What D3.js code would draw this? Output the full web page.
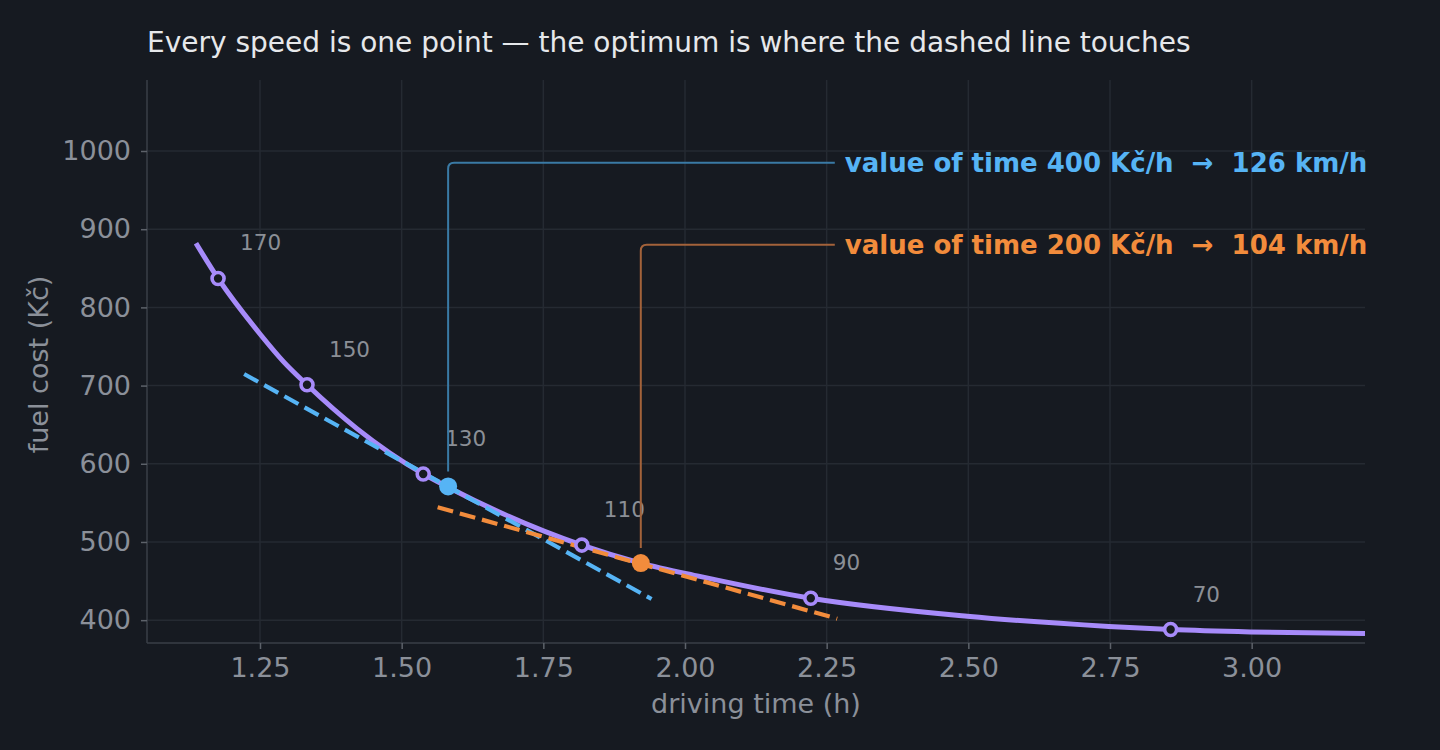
<!DOCTYPE html>
<html>
<head>
<meta charset="utf-8">
<script src="https://cdn.jsdelivr.net/npm/d3@7"></script>
<style>
  html, body { margin: 0; padding: 0; background: #161a21; }
  svg { display: block; font-family: "DejaVu Sans", sans-serif; }
</style>
</head>
<body>
<svg id="chart" width="1440" height="750"></svg>
<script>
// curve: driving time (h) vs fuel cost (Kč)
var curveTime = [1.137, 1.176, 1.25, 1.291, 1.333, 1.421, 1.538, 1.582, 1.818, 1.922, 2.026, 2.222, 2.498, 2.748, 2.857, 2.998, 3.20];
var curveCost = [882, 837, 766, 731, 701, 645, 587, 570, 496, 473, 456, 428, 405, 392, 388, 385, 383];

// speeds marked on the curve
var speeds = [170, 150, 130, 110, 90, 70];
var speedTime = [1.176, 1.333, 1.538, 1.818, 2.222, 2.857];
var speedCost = [837, 701, 587, 496, 428, 388];

// optima for two values of time
var valueOfTime = [400, 200];
var optSpeed = [126, 104];
var optTime = [1.582, 1.922];
var optCost = [571, 473];
var tangentTime = [[1.222, 1.941], [1.5635, 2.2686]];
var tangentCost = [[714.8, 427.1], [544.4, 401.9]];
var labelCost = [985, 880];
var labelTime = 2.282;
var colours = ["#56b4f5", "#f28c3c"];
var connColours = ["#3a7aa5", "#a3623a"];

var xTicks = [1.25, 1.50, 1.75, 2.00, 2.25, 2.50, 2.75, 3.00];
var yTicks = [400, 500, 600, 700, 800, 900, 1000];

var svg = d3.select("#chart"),
    margin = {top: 80, right: 75, bottom: 107, left: 147},
    width = svg.attr("width") - margin.left - margin.right,
    height = svg.attr("height") - margin.top - margin.bottom;

svg.append("rect").attr("width", 1440).attr("height", 750).attr("fill", "#161a21");

var g = svg.append("g").attr("transform", "translate(" + margin.left + "," + margin.top + ")");

var x = d3.scaleLinear().domain([1.0506, 3.20]).range([0, width]),
    y = d3.scaleLinear().domain([370.8, 1090.8]).range([height, 0]);

// grid
g.append("g").selectAll("line").data(xTicks).enter().append("line")
    .attr("x1", function(d) { return x(d); }).attr("x2", function(d) { return x(d); })
    .attr("y1", 0).attr("y2", height)
    .attr("stroke", "#252a32").attr("stroke-width", 1.5);
g.append("g").selectAll("line").data(yTicks).enter().append("line")
    .attr("y1", function(d) { return y(d); }).attr("y2", function(d) { return y(d); })
    .attr("x1", 0).attr("x2", width)
    .attr("stroke", "#252a32").attr("stroke-width", 1.5);

// axes
var xAxis = g.append("g")
    .attr("transform", "translate(0," + height + ")")
    .call(d3.axisBottom(x).tickValues(xTicks).tickFormat(d3.format(".2f")).tickSize(6).tickPadding(9));
var yAxis = g.append("g")
    .call(d3.axisLeft(y).tickValues(yTicks).tickFormat(d3.format("d")).tickSize(6).tickPadding(10));

[xAxis, yAxis].forEach(function(a) {
  a.select(".domain").attr("stroke", "#3a3f47").attr("stroke-width", 1.5);
  a.selectAll(".tick line").attr("stroke", "#5d626a").attr("stroke-width", 1.5);
  a.selectAll(".tick text").attr("fill", "#8b9099").style("font-size", "27px")
    .style("font-family", "DejaVu Sans");
});
// spines only, no outer ticks
xAxis.select(".domain").attr("d", "M0,0H" + width);
yAxis.select(".domain").attr("d", "M0,0V" + height);

g.append("text")
    .attr("x", width / 2).attr("y", height + 70)
    .attr("text-anchor", "middle")
    .attr("fill", "#8b9099").style("font-size", "27px")
    .text("driving time (h)");

g.append("text")
    .attr("transform", "translate(" + (-99) + "," + (height / 2 + 3) + ") rotate(-90)")
    .attr("text-anchor", "middle")
    .attr("fill", "#8b9099").style("font-size", "27px")
    .text("fuel cost (Kč)");

svg.append("text")
    .attr("x", margin.left).attr("y", 52)
    .attr("fill", "#e6e8eb").style("font-size", "28px")
    .text("Every speed is one point — the optimum is where the dashed line touches");

// main curve
var curvePts = curveTime.map(function(t, i) { return {t: t, c: curveCost[i]}; });
var line = d3.line()
    .curve(d3.curveMonotoneX)
    .x(function(d) { return x(d.t); })
    .y(function(d) { return y(d.c); });

g.append("path")
    .datum(curvePts)
    .attr("d", line)
    .attr("fill", "none")
    .attr("stroke", "#a78bfa")
    .attr("stroke-width", 5)
    .attr("stroke-linecap", "butt");

// tangent lines
valueOfTime.forEach(function(v, i) {
  g.append("line")
      .attr("x1", x(tangentTime[i][0])).attr("y1", y(tangentCost[i][0]))
      .attr("x2", x(tangentTime[i][1])).attr("y2", y(tangentCost[i][1]))
      .attr("stroke", colours[i])
      .attr("stroke-width", 4.2)
      .attr("stroke-dasharray", "16,7");
});

// speed markers
var pts = speeds.map(function(s, i) { return {s: s, t: speedTime[i], c: speedCost[i]}; });
g.selectAll(".point").data(pts).enter().append("circle")
    .attr("class", "point")
    .attr("r", 6)
    .attr("cx", function(d) { return x(d.t); })
    .attr("cy", function(d) { return y(d.c); })
    .attr("fill", "#161a21")
    .attr("stroke", "#a78bfa")
    .attr("stroke-width", 3.6);

g.selectAll(".plabel").data(pts).enter().append("text")
    .attr("class", "plabel")
    .attr("x", function(d) { return x(d.t) + 22; })
    .attr("y", function(d) { return y(d.c) - 28; })
    .attr("fill", "#8b8f96")
    .style("font-size", "21.5px")
    .text(function(d) { return d.s; });

// optimum annotations
valueOfTime.forEach(function(v, i) {
  var px = x(optTime[i]), py = y(optCost[i]),
      ly = y(labelCost[i]), lx = x(labelTime), r = 6;
  g.append("path")
      .attr("d", "M" + px + "," + (py - 15) + "V" + (ly + r) +
                 "Q" + px + "," + ly + " " + (px + r) + "," + ly +
                 "H" + (lx - 10))
      .attr("fill", "none")
      .attr("stroke", connColours[i])
      .attr("stroke-width", 2);

  g.append("circle")
      .attr("cx", px).attr("cy", py).attr("r", 9)
      .attr("fill", colours[i]);

  g.append("text")
      .attr("x", lx).attr("y", ly)
      .attr("dy", "0.35em")
      .attr("fill", colours[i])
      .style("font-size", "26px")
      .style("font-weight", "bold")
      .style("white-space", "pre")
      .text("value of time " + v + " Kč/h  →  " + optSpeed[i] + " km/h");
});
</script>
</body>
</html>
